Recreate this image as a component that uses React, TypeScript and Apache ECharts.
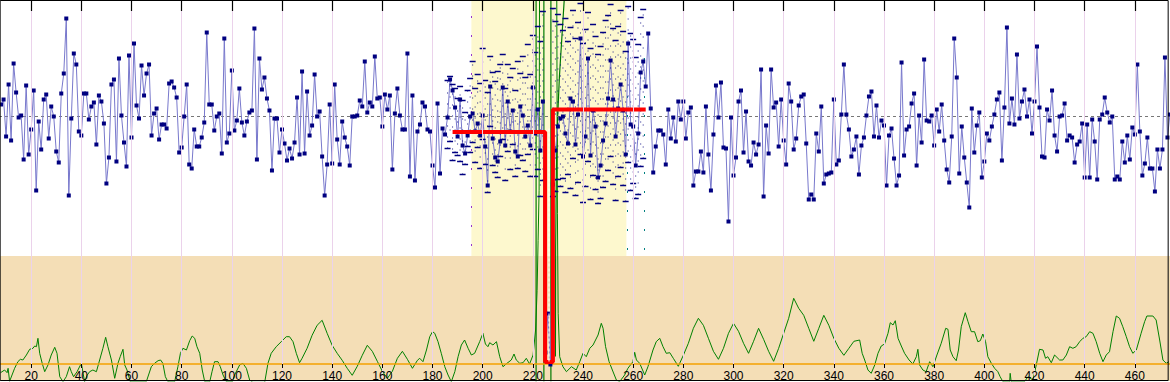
import React, { useEffect, useRef } from "react";
import * as echarts from "echarts";

// ---- axes ----
const X_MIN = 0;
const X_MAX = 480;
const X_STEP = 20;
const Y_MIN = -26.45;
const Y_MAX = 11.55;
const G_MIN = -1.77;
const G_MAX = 36.23;

// ---- main series (x starts at 8, step 1) ----
const seriesStart = 8;
const seriesValues = [
  1.2, 1.7, -2.0, 3.2, -2.4, 5.3, 2.4, -0.1, 0.1, -4.3,
  3.1, -3.8, -1.3, 2.6, -7.4, -0.5, -3.3, 1.7, 2.2, -2.2,
  1.0, 0.0, -3.5, -4.6, 2.3, 4.3, 9.8, -7.9, -0.2, 6.3,
  5.2, -1.5, -1.9, 2.3, 2.3, -0.3, 1.0, 1.4, -2.8, 2.1,
  1.5, -0.7, -6.7, -4.1, 3.2, 3.7, -4.5, 5.8, 0.1, -2.6,
  -5.0, 6.1, -2.1, 7.3, 1.1, -0.2, 5.1, 2.1, 4.3, 5.2,
  -1.9, 0.3, 0.8, -2.3, -0.8, -0.8, -1.2, 3.3, 3.5, 2.9,
  1.9, -3.6, -3.1, 0.0, 3.2, -4.8, -5.2, -1.3, -3.0, -3.0,
  -2.1, -0.6, 8.4, 1.2, 1.2, -1.4, 0.0, 0.3, -3.7, 7.8,
  -2.6, -1.7, 4.6, -1.4, -0.4, 2.8, -0.6, -1.9, -0.5, 0.4,
  0.6, 8.8, -4.3, 5.8, 2.7, 3.9, 1.8, 0.6, -5.4, -0.2,
  -0.2, -3.6, -1.3, -2.7, -4.4, -3.2, -4.2, -2.6, 1.9,
  -3.8, 4.5, -3.7, 2.5, -1.9, -0.9, 4.2, 0.0, 0.5, -4.0,
  -7.9, -4.8, 1.2, -4.7, 3.2, -2.3, -4.8, -0.5, -2.1, -3.0,
  -4.9, 0.0, 0.0, 0.1, 1.6, 1.0, 5.5, 0.4, 1.4, 1.0,
  6.0, 1.8, 1.9, -1.0, 2.2, 0.7, 2.1, -5.3, 0.3, 2.8,
  0.1, -1.3, -1.3, 6.3, -6.0, 2.1, -6.4, -1.5, -0.8, 1.4,
  1.0, -1.3, -1.5, -4.9, -7.1, 1.3, -5.7, -1.2, -1.8, -0.1,
  3.7, 2.6,
  0.9, -2.0, 1.7, -2.9, -3.7, -1.9, 0.0, 0.3, -1.5, -0.7,
  -1.9, 0.1, -3.0, -6.9, 3.0, -2.2, -4.1, -4.5, -2.5, 2.9,
  -2.9, 1.5, -1.5, 0.6, -3.5, -4.0, 1.0, 0.1, -2.0, -0.9,
  -2.9, 2.9, -1.7, 0.7, -3.4, 1.5, -23.6, -19.7, -24.8, -6.8,
  -3.4, -1.0, -0.2, 0.0, -1.7, -2.7, 1.8, 1.5, -2.8, 0.2,
  7.8, -4.0, -2.0, 5.8, -3.9, 0.6, -1.0, -6.1, -4.9, -2.4,
  -0.7, 1.8, 5.6, 1.7, -2.0, 0.8, 3.2, 0.6, -3.8, 7.3,
  -0.8, -1.0, -4.9, -1.7, 4.4, 5.5, 3.0, 8.3, 0.8, -5.6,
  -3.0, -1.4,
  -1.4, -1.8, -4.8, 0.7, -2.2, -0.1, -2.5, 1.5, -0.3, 1.5,
  -2.2, 0.4, 0.9, -6.9, -5.5, -5.5, -3.5, -5.6, 1.0, -3.8,
  -7.4, -1.8, 3.1, -0.1, 3.4, -3.1, -3.2, -10.5, -0.1, -5.9,
  -4.1, 1.5, 2.6, -3.6, 0.5, -4.5, -4.9, -2.6, -3.8, -2.8,
  4.7, -8.0, -0.9, -3.7, 4.7, 0.9, 1.4, -3.0, 1.7, -2.4,
  -4.8, 3.3, 1.5, -3.3, -2.2, 1.1, 2.0, 2.2, -2.7, -8.3,
  -7.8, -8.3, -1.7, -3.5, 1.0, -6.7, -5.8, -5.7, -5.6, 1.7,
  -4.8, -4.4, 0.2, 5.2, 0.2, -1.3, -4.0, -3.3, -2.0, -5.8,
  -2.9, -2.1, 0.1, 2.0, 2.5, -2.0, 1.1, -2.1, -0.4, -0.9,
  -6.9, -1.9, -1.2, -4.2, -6.9, -5.9, 5.4, -3.9, -1.3, -1.0,
  1.3, 2.3, -4.9, 0.1, -2.6, 5.7, -0.4, -0.5, 0.1, -2.9,
  0.7, -1.5, 1.2, -2.4, -5.3, -6.6, -2.0, 7.8, 3.9, -5.7,
  -1.0, -4.1, -6.6, -9.1, 0.8, -3.6, -0.9, 0.4, -6.1, -4.5,
  -1.7, -2.4, -1.0, 0.2, 1.7, 2.4, -4.4, 0.9, 8.9, -0.7,
  1.8, -0.8, 6.2, -0.2, 1.5, 2.7, 0.0, 1.7, -1.7, 1.5,
  7.0, 0.9, -4.0, -4.1, 0.7, -0.4, 2.6, -1.9, -3.5, 0.0,
  0.1, 1.3, -2.4, -1.9, -2.1, -4.6, -2.8, -2.5, -0.7, -6.1,
  -0.8, -6.1, -0.3, -2.5, -6.3, -0.3, 0.2, 1.9, 0.4, -0.6,
  0.0, -6.3, -6.0, -6.3, -2.5, -4.6, -1.9, -4.3, -1.1, -1.8,
  5.2, -1.5, -5.9, -4.7, -2.1, -5.2, -5.2, -7.5, -3.3, -5.2,
  -3.3, 5.9, -2.1, 0.2,
];

// ---- interval bars around the change region ----
const errX = [186, 187, 188, 189, 190, 191, 192, 193, 194, 195, 196, 197, 198, 199, 200, 201, 202, 203, 204, 205, 206, 207, 208, 209, 210, 211, 212, 213, 214, 215, 216, 217, 218, 219, 220, 221, 222, 223, 224, 228, 229, 230, 231, 232, 233, 234, 235, 236, 237, 238, 239, 240, 241, 242, 243, 244, 245, 246, 247, 248, 249, 250, 251, 252, 253, 254, 255, 256, 257, 258, 259, 260, 261, 262, 263, 264];
const errHi = [3.6, 4.0, 3.2, 2.8, 1.8, 3.0, 1.6, 0.4, 2.6, 3.8, 5.5, 2.8, 4.2, 3.3, 6.8, 3.6, 2.4, 6.0, 4.4, 3.5, 4.5, 5.2, 6.2, 2.8, 5.2, 3.9, 4.8, 2.6, 5.5, 4.3, 6.0, 3.9, 7.2, 4.2, 8.1, 6.4, 9.0, 7.5, 10.5, 10.8, 9.5, 10.2, 9.2, 8.6, 9.8, 7.5, 8.9, 10.6, 7.8, 9.4, 11.3, 7.3, 8.7, 10.4, 6.8, 9.2, 8.0, 6.2, 7.0, 8.4, 9.6, 10.1, 11.2, 8.8, 7.6, 9.0, 10.6, 8.5, 6.5, 11.0, 8.3, 7.7, 5.9, 7.2, 9.9, 10.7];
const errLo = [-3.2, -2.5, -4.4, -3.6, -3.9, -4.5, -5.8, -4.8, -3.0, -3.6, -2.6, -4.6, -3.1, -5.2, -2.3, -4.8, -7.6, -1.0, -4.9, -5.6, -6.1, -4.0, -2.3, -6.4, -3.5, -5.3, -2.8, -6.0, -5.2, -3.9, -4.4, -5.5, -3.8, -6.0, -3.3, -6.0, -5.3, -8.0, -6.4, -8.0, -7.5, -6.3, -7.0, -6.2, -7.6, -5.8, -7.2, -4.2, -7.9, -6.6, -3.8, -8.6, -7.0, -4.5, -8.3, -5.9, -7.3, -8.7, -8.2, -7.1, -6.5, -5.4, -4.0, -6.8, -8.4, -6.0, -5.1, -6.9, -8.5, -4.6, -7.4, -6.7, -8.2, -7.8, -5.0, -4.2];

// ---- lower statistic (green) ----
const greenX = [
  7.8, 9.4, 10.4, 10.8, 11.4, 13.4, 14.7, 15.7, 16.7, 18.1, 19.4, 20.7, 21.4, 22.1, 22.7, 23.4, 24.4, 25.4, 26.7, 28.0,
  29.4, 30.3, 31.4, 32.7, 34.0, 35.3, 36.0, 36.9, 38.3, 40.0, 41.3, 42.3, 43.3, 44.6, 46.0, 47.3, 48.6, 49.7, 50.6, 52.0,
  53.3, 54.6, 55.5, 56.6, 57.3, 58.2, 59.5, 65.9, 67.9, 69.2, 70.6, 71.6, 72.5, 73.5, 74.5, 77.2, 78.5, 79.5, 80.5, 81.9,
  83.2, 84.2, 85.2, 86.1, 87.2, 88.2, 89.2, 91.2, 92.1, 93.1, 94.5, 95.4, 96.5, 97.8, 100.2, 101.1, 102.1, 103.1, 104.4, 105.8,
  107.1, 108.4, 113.1, 114.4, 115.7, 117.7, 119.7, 121.7, 123.0, 124.4, 125.7, 127.0,
  128, 130, 132, 134, 136, 138, 140, 142, 144, 146, 148, 150, 152, 154, 156, 158, 160, 162, 164, 166, 168, 170, 172, 174,
  174.9, 176.2, 177.6, 178.9, 180.0, 180.9, 182.2, 183.5, 184.9, 186.2, 187.5, 188.9, 190.2, 191.5, 192.8, 194.2, 195.5, 196.8, 198.8, 200.1,
  201.1, 202.1, 202.8, 204.1, 205.5, 206.8, 208.1, 209.7, 211.4, 212.5, 213.4, 214.8, 216.1, 217.4, 218.7, 220.1, 221.1, 221.7, 222.1, 222.5,
  222.7, 229.5, 229.8, 230.1, 230.7, 232.0, 233.4, 235.4, 237.3, 238.7, 240.0, 241.3, 242.7, 244.0, 246.0, 247.3, 248.0, 249.0, 250.4, 251.7,
  253.3, 254.6, 256.6, 257.9, 259.9, 260.6, 261.3, 262.6, 264.6, 265.9, 267.9, 269.2, 270.6, 271.9, 273.2, 274.6,
  276, 278, 280, 282, 284, 286, 288, 290, 292, 294, 296, 298, 300, 302, 304, 306, 308, 310, 312, 314, 316, 318, 320, 322, 324, 326, 328, 330, 332, 334, 336, 338, 340, 342, 344, 346, 348,
  350.3, 351.3, 352.3, 353.6, 354.9, 356.3, 357.6, 358.9, 360.2, 361.6, 362.5, 363.6, 364.5, 365.6, 366.9, 368.2, 370.0, 371.5, 372.9, 373.5,
  374.2, 375.5, 376.8, 378.2, 379.5, 381.1, 382.8, 384.6, 385.5, 386.4, 387.5, 388.8, 389.7, 390.8, 392.4, 393.5, 394.8, 396.1, 397.4, 398.4,
  399.4, 400.5, 401.4, 402.8, 404.1, 405.4, 406.3, 407.4, 410.1, 410.3, 410.7, 416.0, 417.4, 419.4, 420.7, 422.0, 423.4, 424.4, 425.3, 426.7,
  428.0, 430.0, 431.3, 432.7, 434.0, 435.3, 436.6, 438.0, 439.3, 440.6, 442.0, 443.3, 444.6, 446.0, 447.3, 448.6, 449.9, 451.3, 452.6, 453.9,
  455.2, 456.6, 457.9, 459.2, 460.6, 462.5, 463.9, 464.8, 467.2, 468.5, 469.9, 471.2, 472.5, 473.6,
];
const greenY = [
  -0.94, -0.67, -0.94, -0.5, -1.8, -0.5, 0.16, 0.4, 0.33, 0.83, 1.4, 1.5, 1.73, 1.66, 2.5, 1.0, 0.0, -0.84, -0.17, 0.83,
  1.6, 1.0, -1.34, -1.84, -1.34, -0.34, -0.84, -1.34, -0.84, 0.0, -1.84, -1.2, -0.84, -0.67, -0.84, 0.33, 1.5, 2.6, 1.66, 0.33,
  -1.5, 0.0, 0.66, 1.4, -0.17, -0.67, -1.84, -1.84, -0.34, 0.0, 0.26, 0.33, 0.0, -1.34, -1.84, -1.84, -0.34, 1.0, 1.5, 1.33,
  2.26, 2.73, 2.5, 1.66, 1.0, -0.67, -1.84, -1.84, -0.84, 0.16, 0.16, -0.34, -1.17, -1.84, -1.84, -1.17, -0.67, -0.17, 0.0, -0.5,
  -1.67, -1.9, -1.9, 0.0, 1.0, 1.66, 2.16, 2.66, 2.66, 2.16, 1.0, 0.06,
  0.5, 1.5, 2.8, 3.8, 4.3, 3.0, 1.8, 1.0, 0.3, -0.5, -1.2, -0.3, 0.8, 1.8, 1.2, 0.2, -0.8, -1.5, -0.8, 0.5, 1.2, 0.4, -0.5, 0.3,
  0.5, 0.16, 1.33, 2.66, 3.16, 3.0, 2.16, 1.0, -0.34, -1.17, -1.84, -0.84, 0.66, 1.83, 2.33, 1.5, 0.83, 1.0, 2.16, 3.0,
  1.93, 1.66, 2.06, 1.83, 2.16, 0.66, -0.34, 0.0, 0.33, 0.93, 0.33, 0.0, 0.06, 0.5, -0.07, 0.83, 3.33, 7.3, 12.3, 17.3,
  40, 40, 15, 5, 0.66, -0.34, -0.84, -0.34, -0.67, 0.16, 1.0, 0.66, 1.5, 1.83, 2.83, 4.0, 3.5, 1.66, 0.16, -0.67,
  -1.67, -1.84, -1.17, -0.5, 0.16, 1.1, 0.33, 0.0, -1.17, -0.34, 1.33, 2.16, 2.5, 1.66, 1.0, 1.06,
  0.5, -0.3, 0.8, 2.0, 3.5, 4.5, 3.8, 2.5, 1.2, 0.4, 1.5, 3.0, 4.0, 3.2, 2.0, 1.0, 2.2, 3.5, 2.4, 1.2, 0.2, 1.5, 3.0, 4.5, 6.5, 5.5, 4.8, 3.5, 2.2, 3.5, 4.8, 3.8, 2.5, 1.5, 0.8, 1.5, 2.2,
  2.33, 1.0, 0.33, -0.67, -1.0, -0.17, 1.0, 1.73, 1.93, 3.0, 4.06, 3.83, 4.26, 2.5, 1.73, 1.0, 0.33, -0.07, 0.66, 1.4,
  -0.17, -0.67, -0.84, 0.16, -0.34, 0.83, 2.0, 3.5, 3.4, 1.33, 0.66, 0.26, 1.33, 3.66, 5.06, 4.16, 3.16, 3.16, 2.16, 2.26,
  2.93, 2.16, 0.66, 0.0, -0.5, -0.84, -1.34, -1.84, -1.84, -1.0, -1.84, -1.84, -1.34, -1.67, -0.17, 1.4, 1.33, 0.5, 0.66, 0.06,
  0.83, 0.33, 0.33, 0.83, 1.66, 1.5, 1.66, 2.16, 2.5, 2.66, 3.16, 3.0, 2.16, 1.0, 0.16, 0.83, 1.16, 3.16, 4.73, 4.5,
  3.66, 2.66, 1.66, 1.0, 1.33, 3.0, 4.16, 4.73, 4.73, 4.33, 2.33, 0.33, 0.0, 0.16,
];

// ---- boundary curves around the change point ----
const maskAX = [221.3, 221.3];
const maskAY = [11.6, -26.5];
const maskBX = [224.4, 224.4];
const maskBY = [11.6, -26.5];
const maskCX = [227.2, 227.2];
const maskCY = [11.6, -26.5];
const maskDX = [232.5, 231.6, 230.6, 229.9, 229.4, 229.1, 229.0];
const maskDY = [11.6, 8.0, 4.0, 0.0, -5.0, -13.0, -24.0];

// ---- fitted step (red) ----
const stepX = [188.0, 224.9, 224.9, 228.0, 228.0, 265.0];
const stepY = [-1.55, -1.55, -24.55, -24.55, 0.7, 0.7];
const stepGapX = [226.45, 226.45];
const stepGapY = [-1.2, -24.5];

const meanLevel = 0;
const lowerBandTop = -13.95;
const highlightFrom = 195.5;
const highlightTo = 257.3;
const purpleDotX = 195.4;
const tealDotX = [257.8, 264.4];

// page-to-chart geometry: the chart canvas is shifted so x=0 / x=480 lie just outside the page
const SHIFT_LEFT = 18.67;
const CHART_W = 1204.2;

const zip = (xs: number[], ys: number[]) => xs.map((x, i) => [x, ys[i]]);

export default function App() {
  const ref = useRef<HTMLDivElement>(null);
  useEffect(() => {
    if (!ref.current) return;
    const chart = echarts.init(ref.current, undefined, { renderer: "svg" });
    const xAxisBase = {
      type: "value",
      min: X_MIN,
      max: X_MAX,
      interval: X_STEP,
      axisLine: { show: true, onZero: false, lineStyle: { color: "rgba(0,0,0,0)" } },
    };
    const maskLine = (xs: number[], ys: number[]) => ({
      type: "line",
      data: zip(xs, ys),
      symbol: "none",
      lineStyle: { color: "#007a00", width: 1.2 },
      z: 4,
      silent: true,
    });
    const option: any = {
      animation: false,
      backgroundColor: "#ffffff",
      grid: { left: 0, right: 0, top: 1, bottom: 1, show: false, containLabel: false, outerBoundsMode: "none" },
      graphic: [
        {
          type: "rect",
          shape: { x: SHIFT_LEFT + 0.5, y: 0.5, width: 1168, height: 380 },
          style: { fill: "none", stroke: "#000", lineWidth: 1 },
          z: 100,
          silent: true,
        },
      ],
      xAxis: [
        {
          ...xAxisBase,
          position: "bottom",
          axisTick: { show: false },
          splitLine: { show: true, lineStyle: { color: "#EBD2EB", width: 1 } },
          axisLabel: {
            inside: true,
            margin: -1,
            fontSize: 12,
            color: "#000",
            fontFamily: "Liberation Sans, Arial, sans-serif",
            formatter: (v: number) => (v <= X_MIN || v >= X_MAX ? "" : String(v)),
          },
          z: 20,
        },
        {
          ...xAxisBase,
          position: "top",
          splitLine: { show: false },
          axisLabel: { show: false },
          axisTick: { show: true, inside: true, length: 10, lineStyle: { color: "#000", width: 1.2 } },
          z: 20,
        },
        {
          ...xAxisBase,
          position: "bottom",
          offset: -13,
          splitLine: { show: false },
          axisLabel: { show: false },
          axisTick: { show: true, inside: true, length: 4, lineStyle: { color: "#000", width: 1 } },
          z: 20,
        },
      ],
      yAxis: [
        { type: "value", min: Y_MIN, max: Y_MAX, show: false, splitLine: { show: false } },
        { type: "value", min: G_MIN, max: G_MAX, show: false, splitLine: { show: false } },
      ],
      series: [
        {
          type: "line",
          data: [],
          z: 0,
          silent: true,
          markArea: {
            silent: true,
            data: [
              [{ yAxis: Y_MIN, itemStyle: { color: "#F4DEB6" } }, { yAxis: lowerBandTop }],
              [{ xAxis: highlightFrom, yAxis: lowerBandTop, itemStyle: { color: "#FDF8CE" } }, { xAxis: highlightTo, yAxis: Y_MAX }],
            ],
          },
        },
        {
          type: "line",
          data: [],
          z: 1,
          silent: true,
          markLine: {
            silent: true,
            symbol: ["none", "none"],
            label: { show: false },
            data: [
              [{ coord: [purpleDotX, lowerBandTop + 1], lineStyle: { color: "#9933CC", type: [2, 17], width: 1 } }, { coord: [purpleDotX, Y_MAX - 0.9] }],
              [{ coord: [tealDotX[0], lowerBandTop + 0.6], lineStyle: { color: "#008080", type: [2, 17], width: 1 } }, { coord: [tealDotX[0], Y_MAX - 5.4] }],
              [{ coord: [tealDotX[1], lowerBandTop + 0.6], lineStyle: { color: "#008080", type: [2, 17], width: 1 } }, { coord: [tealDotX[1], Y_MAX - 5.4] }],
            ],
          },
        },
        {
          type: "line",
          yAxisIndex: 1,
          data: zip(greenX, greenY),
          symbol: "none",
          lineStyle: { color: "#008000", width: 1 },
          z: 3,
          silent: true,
          markLine: {
            silent: true,
            symbol: ["none", "none"],
            label: { show: false },
            lineStyle: { color: "#F5A000", type: "solid", width: 1.5 },
            data: [{ yAxis: 0 }],
          },
        },
        maskLine(maskAX, maskAY),
        maskLine(maskBX, maskBY),
        maskLine(maskCX, maskCY),
        maskLine(maskDX, maskDY),
        {
          type: "line",
          data: seriesValues.map((v, i) => [seriesStart + i, v]),
          symbol: "rect",
          symbolSize: 4,
          itemStyle: { color: "#000080" },
          lineStyle: { color: "#7878CC", width: 1 },
          z: 5,
          silent: true,
          markLine: {
            silent: true,
            symbol: ["none", "none"],
            label: { show: false },
            lineStyle: { color: "#777", type: [3, 3], width: 1 },
            data: [{ yAxis: meanLevel }],
          },
        },
        {
          type: "custom",
          z: 6,
          silent: true,
          data: errX.map((x, i) => [x, errLo[i], errHi[i]]),
          encode: { x: 0, y: [1, 2] },
          renderItem: (params: any, api: any) => {
            const x = api.value(0);
            const pl = api.coord([x, api.value(1)]);
            const ph = api.coord([x, api.value(2)]);
            const st = { stroke: "#000080", lineWidth: 1.5 };
            return {
              type: "group",
              children: [
                { type: "line", shape: { x1: pl[0], y1: pl[1], x2: ph[0], y2: ph[1] }, style: { stroke: "#000080", lineWidth: 0.9, lineDash: [1, 10] } },
                { type: "line", shape: { x1: ph[0] - 3, y1: ph[1], x2: ph[0] + 3, y2: ph[1] }, style: st },
                { type: "line", shape: { x1: pl[0] - 3, y1: pl[1], x2: pl[0] + 3, y2: pl[1] }, style: st },
              ],
            };
          },
        },
        {
          type: "line",
          data: zip(stepX, stepY),
          symbol: "none",
          lineStyle: { color: "#FF0000", width: 4 },
          z: 7,
          silent: true,
        },
        {
          type: "line",
          data: zip(stepGapX, stepGapY),
          symbol: "none",
          lineStyle: { color: "#FFFFFF", width: 1, type: [3, 2] },
          z: 8,
          silent: true,
        },
      ],
    };
    chart.setOption(option);
    return () => chart.dispose();
  }, []);
  return (
    <div style={{ position: "fixed", left: 0, top: 0, width: 1170, height: 382, overflow: "hidden", background: "#fff" }}>
      <div ref={ref} style={{ position: "absolute", left: -SHIFT_LEFT, top: 0, width: CHART_W, height: 382 }} />
    </div>
  );
}
